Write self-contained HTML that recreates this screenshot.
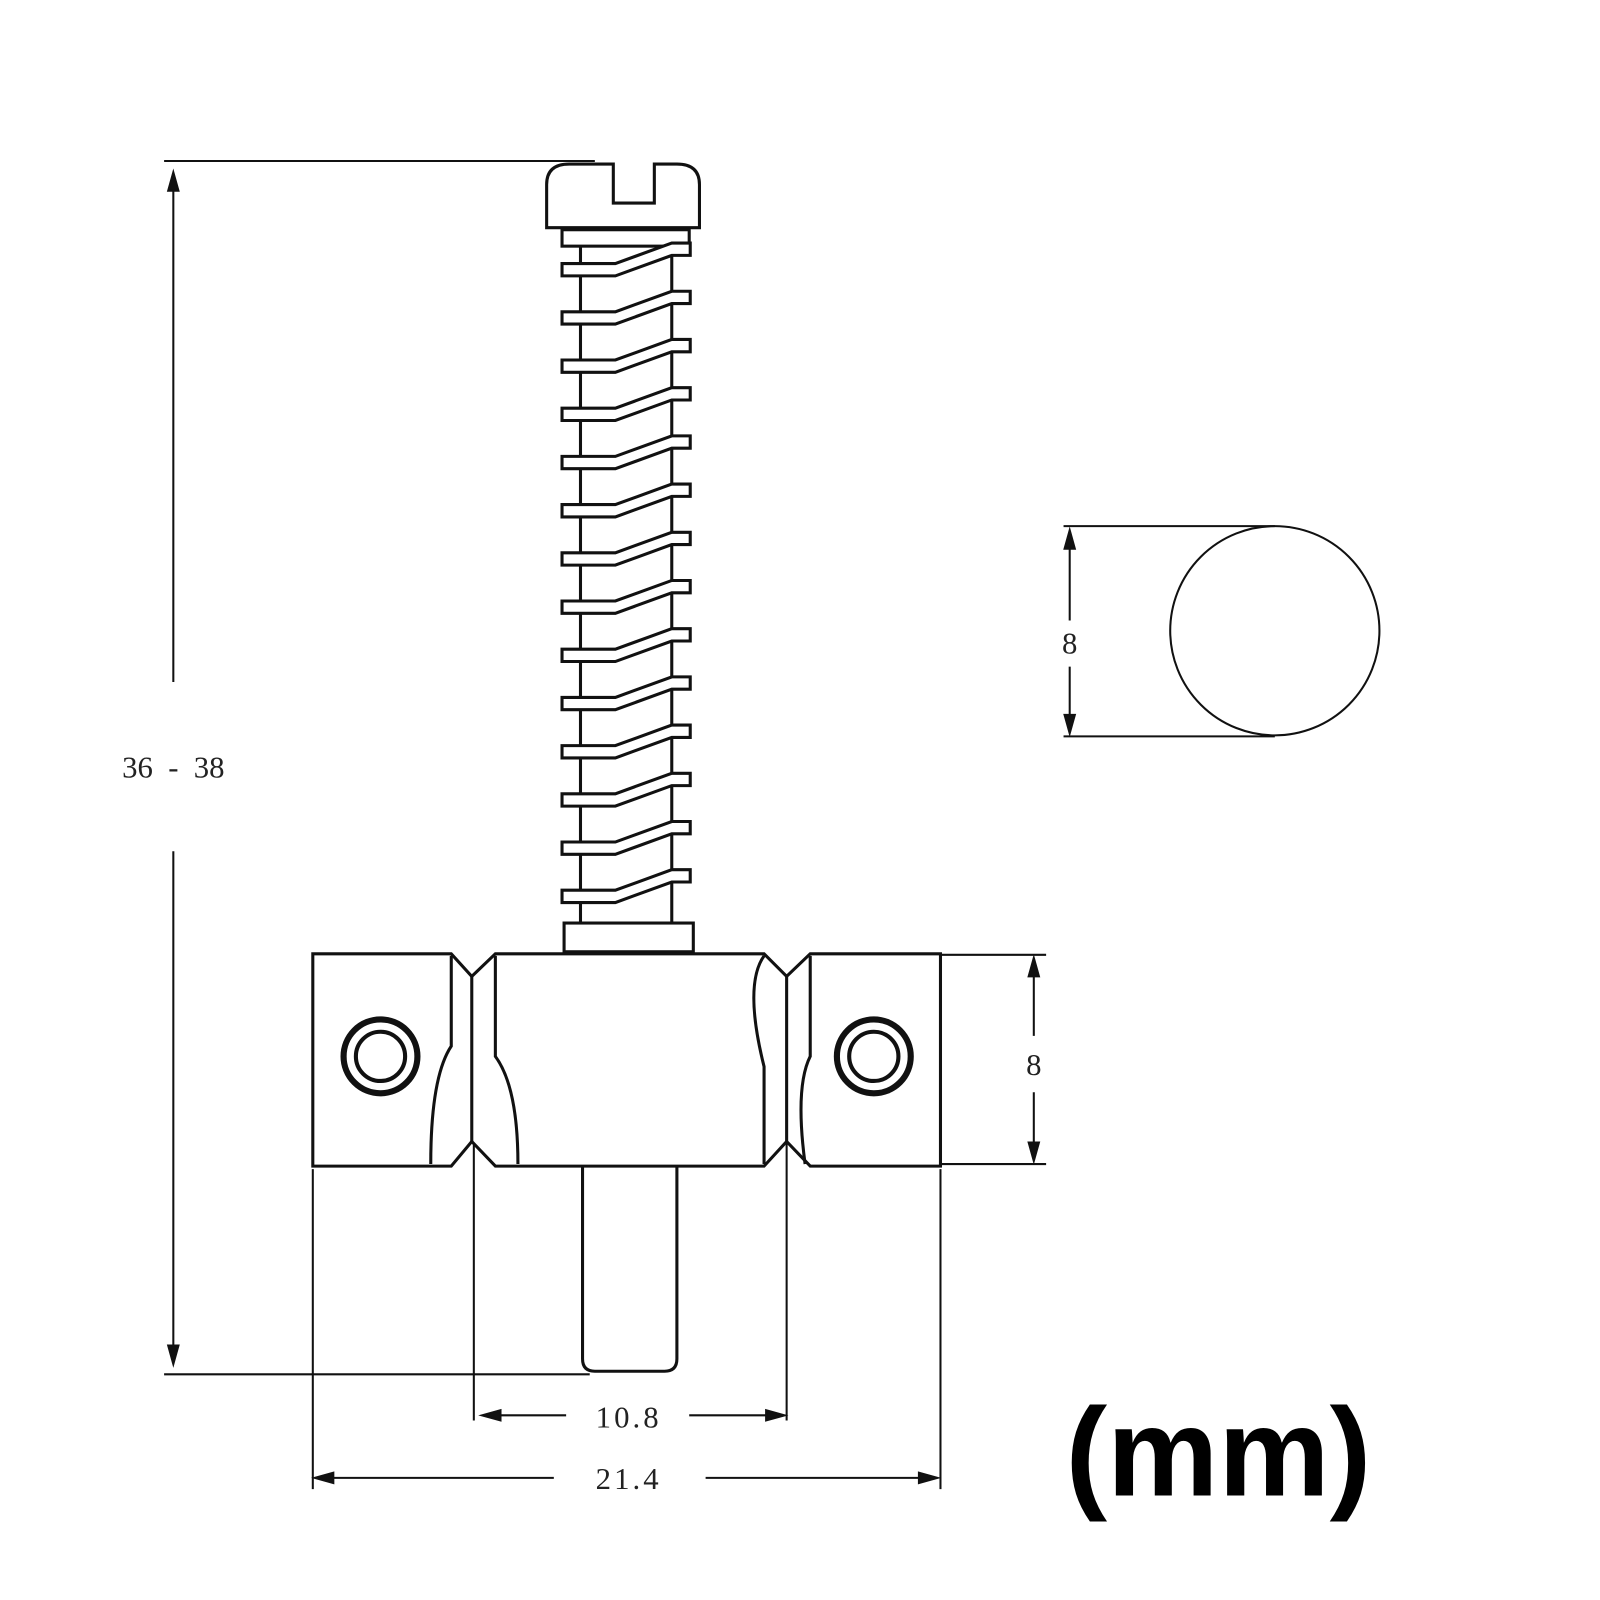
<!DOCTYPE html>
<html><head><style>body{margin:0;background:#fff}svg{display:block}text{font-family:"Liberation Serif",serif;fill:#222}</style></head>
<body>
<svg width="1600" height="1600" viewBox="0 0 1600 1600" xmlns="http://www.w3.org/2000/svg">
<g transform="scale(1.0256)">
<g stroke="#111" fill="none" stroke-width="2">
<line x1="160" y1="157" x2="580" y2="157"/>
<line x1="160" y1="1340" x2="575" y2="1340"/>
<line x1="169" y1="172" x2="169" y2="665"/>
<line x1="169" y1="830" x2="169" y2="1325"/>
<path d="M169,168 l-5,18 h10z M169,1330 l-5,-18 h10z" fill="#111"/>
<line x1="305" y1="1140" x2="305" y2="1452"/>
<line x1="917" y1="1140" x2="917" y2="1452"/>
<line x1="462" y1="1115" x2="462" y2="1385"/>
<line x1="767" y1="1115" x2="767" y2="1385"/>
<line x1="475" y1="1380" x2="552" y2="1380"/>
<line x1="672" y1="1380" x2="762" y2="1380"/>
<path d="M470,1380 l18,-5 v10z M765,1380 l-18,-5 v10z" fill="#111"/>
<line x1="310" y1="1441" x2="540" y2="1441"/>
<line x1="688" y1="1441" x2="910" y2="1441"/>
<path d="M307,1441 l18,-5 v10z M914,1441 l-18,-5 v10z" fill="#111"/>
<line x1="917" y1="931" x2="1020" y2="931"/>
<line x1="917" y1="1135" x2="1020" y2="1135"/>
<line x1="1008" y1="940" x2="1008" y2="1010"/>
<line x1="1008" y1="1065" x2="1008" y2="1128"/>
<path d="M1008,934 l-5,18 h10z M1008,1132 l-5,-18 h10z" fill="#111"/>
<circle cx="1243" cy="615" r="102"/>
<line x1="1037" y1="513" x2="1243" y2="513"/>
<line x1="1037" y1="718" x2="1243" y2="718"/>
<line x1="1043" y1="522" x2="1043" y2="605"/>
<line x1="1043" y1="650" x2="1043" y2="712"/>
<path d="M1043,517 l-5,18 h10z M1043,715 l-5,-18 h10z" fill="#111"/>
</g>
<g stroke="#111" stroke-width="3" fill="#fff">
<path d="M533,222 V180 Q533,160 555,160 H598 V198 H638 V160 H660 Q682,160 682,180 V222 Z"/>
<rect x="548" y="224" width="124" height="16"/>
<line x1="566" y1="240" x2="566" y2="905"/>
<line x1="655" y1="240" x2="655" y2="905"/>
<path d="M548,257 H600 L655,237 H673 V249 H655 L600,269 H548 Z"/>
<rect x="550" y="900" width="126" height="28"/>
<path d="M568,1137 V1325 Q568,1337 580,1337 H648 Q660,1337 660,1325 V1137"/>
<path d="M305,930 H440 L460,952 L483,930 H745 L767,952 L790,930 H917 V1137 H790 L767,1113 L745,1137 H483 L460,1113 L440,1137 H305 Z"/>
</g>
<g stroke="#111" stroke-width="3" fill="none">
<line x1="460" y1="952" x2="460" y2="1113"/>
<line x1="767" y1="952" x2="767" y2="1113"/>
<path d="M440,932 V1020 Q420,1050 420,1135"/>
<path d="M483,932 V1030 Q505,1060 505,1135"/>
<path d="M745,932 Q725,960 745,1040 V1135"/>
<path d="M790,932 V1030 Q775,1060 785,1135"/>
<circle cx="371" cy="1030" r="36" stroke-width="6"/>
<circle cx="371" cy="1030" r="24" stroke-width="4"/>
<circle cx="852" cy="1030" r="36" stroke-width="6"/>
<circle cx="852" cy="1030" r="24" stroke-width="4"/>
</g>
<g stroke="#111" stroke-width="3" fill="#fff">
<path d="M548,304 H600 L655,284 H673 V296 H655 L600,316 H548 Z"/>
<path d="M548,351 H600 L655,331 H673 V343 H655 L600,363 H548 Z"/>
<path d="M548,398 H600 L655,378 H673 V390 H655 L600,410 H548 Z"/>
<path d="M548,445 H600 L655,425 H673 V437 H655 L600,457 H548 Z"/>
<path d="M548,492 H600 L655,472 H673 V484 H655 L600,504 H548 Z"/>
<path d="M548,539 H600 L655,519 H673 V531 H655 L600,551 H548 Z"/>
<path d="M548,586 H600 L655,566 H673 V578 H655 L600,598 H548 Z"/>
<path d="M548,633 H600 L655,613 H673 V625 H655 L600,645 H548 Z"/>
<path d="M548,680 H600 L655,660 H673 V672 H655 L600,692 H548 Z"/>
<path d="M548,727 H600 L655,707 H673 V719 H655 L600,739 H548 Z"/>
<path d="M548,774 H600 L655,754 H673 V766 H655 L600,786 H548 Z"/>
<path d="M548,821 H600 L655,801 H673 V813 H655 L600,833 H548 Z"/>
<path d="M548,868 H600 L655,848 H673 V860 H655 L600,880 H548 Z"/>
</g>
<g font-size="30" text-anchor="middle">
<text x="169" y="758" xml:space="preserve">36  -  38</text>
<text x="613" y="1392" letter-spacing="3">10.8</text>
<text x="613" y="1452" letter-spacing="3">21.4</text>
<text x="1008" y="1048">8</text>
<text x="1043" y="637">8</text>
</g>
<text x="1188" y="1458" font-size="122" font-weight="bold" text-anchor="middle" style="font-family:'Liberation Sans',sans-serif;fill:#000">(mm)</text>
</g>
</svg>
</body></html>
